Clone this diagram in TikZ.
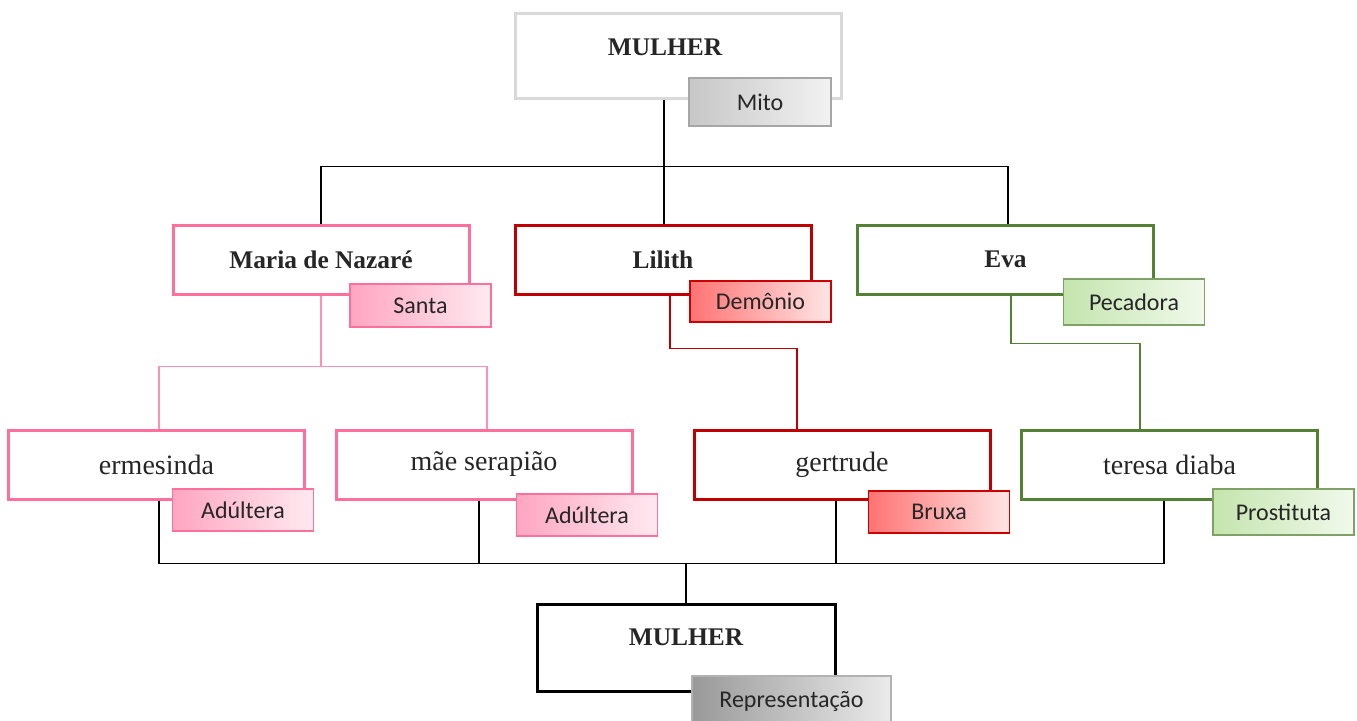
\documentclass[tikz,border=0pt]{standalone}
\usepackage{fontspec}
\setmainfont{Liberation Serif}
\newfontfamily\tagfont{Carlito}
\definecolor{rosa}{HTML}{FF6F9C}
\definecolor{rosaclaro}{HTML}{FF8FB3}
\definecolor{vermelho}{HTML}{C00000}
\definecolor{verde}{HTML}{548235}
\definecolor{verdeA}{HTML}{C4E5AE}
\definecolor{verdeB}{HTML}{F1F9EC}
\definecolor{cinza}{HTML}{D9D9D9}
\begin{document}
\begin{tikzpicture}[x=0.5pt,y=0.5pt,
	caixa/.style={draw,fill=white,line width=1.5pt,minimum width=148pt,minimum height=34.5pt,text=black!85,font=\fontsize{14}{16}\selectfont},
	titulo/.style={caixa,font=\bfseries\fontsize{12.7}{15}\selectfont},
	etiqueta/.style={draw,line width=0.6pt,minimum width=70.5pt,minimum height=21.5pt,text=black!85,font=\tagfont\fontsize{12}{14}\selectfont},
	tagrosa/.style={etiqueta,draw=rosa,left color=rosaclaro!80,right color=rosa!15},
	tagvermelho/.style={etiqueta,draw=red!80!black,left color=red!55,right color=red!10},
	tagverde/.style={etiqueta,draw=verde!75!white,left color=verdeA,right color=verdeB},
	tagcinza/.style={etiqueta,draw=black!35,left color=black!22,right color=black!5},
	ligacao/.style={line width=0.75pt}]
	\useasboundingbox (0,0) rectangle (1357,-720);
	% mito
	\node[titulo,draw=cinza,minimum width=163pt,minimum height=42.5pt] (mulherA) at(678,-55.5){\hspace*{-13pt}\raisebox{8pt}{MULHER}};
	\node[tagcinza,minimum width=71pt,minimum height=24pt] (mito) at(760,-102){Mito};
	% figuras biblicas
	\node[titulo,draw=rosa] (maria) at(321,-259.5){Maria de Nazaré};
	\node[tagrosa] (santa) at(420.5,-305.5){Santa};
	\node[titulo,draw=vermelho] (lilith) at(663,-259.5){Lilith};
	\node[tagvermelho,minimum height=20.5pt] (demonio) at(760.5,-301.5){Demônio};
	\node[titulo,draw=verde] (eva) at(1005.5,-259.5){Eva};
	\node[tagverde,minimum height=23pt] (pecadora) at(1134,-302){Pecadora};
	% personagens
	\node[caixa,draw=rosa] (ermesinda) at(156.5,-464.5){ermesinda};
	\node[tagrosa,minimum height=21pt] (adulteraA) at(243,-510){Adúltera};
	\node[caixa,draw=rosa] (serapiao) at(484,-464.5){mãe serapião};
	\node[tagrosa,minimum height=21pt] (adulteraB) at(587,-515){Adúltera};
	\node[caixa,draw=vermelho] (gertrude) at(842,-464.5){gertrude};
	\node[tagvermelho,minimum height=21pt] (bruxa) at(939,-512){Bruxa};
	\node[caixa,draw=verde] (teresa) at(1169.5,-464.5){teresa diaba};
	\node[tagverde,minimum height=23pt] (prostituta) at(1283.5,-512){Prostituta};
	% representacao
	\node[titulo,draw=black,minimum width=149pt,minimum height=43.5pt] (mulherB) at(686,-647.5){\raisebox{10pt}{MULHER}};
	\node[tagcinza,draw=black!30,left color=black!40,right color=black!8,minimum width=99.5pt,minimum height=25pt] (repres) at(791.5,-701){Representação};
	% ligacoes
	\draw[ligacao] ([xshift=-7pt]mulherA.south) -- ++(0,-67) coordinate (topo);
	\draw[ligacao] (maria.north) |- (topo) -| ([xshift=1.25pt]eva.north);
	\draw[ligacao] (topo) -- (topo |- lilith.north);
	\draw[ligacao,rosaclaro] (maria.south) -- ++(0,-71) coordinate (meio);
	\draw[ligacao,rosaclaro] ([xshift=1.25pt]ermesinda.north) |- (meio) -| ([xshift=1.5pt]serapiao.north);
	\draw[ligacao,vermelho] ([xshift=3.5pt]lilith.south) -- ++(0,-53) -| ([xshift=-22.5pt]gertrude.north);
	\draw[ligacao,verde] ([xshift=2.75pt]eva.south) -- ++(0,-48) -| ([xshift=-14.75pt]teresa.north);
	\draw[ligacao] (mulherB.north) -- ++(0,39) coordinate (base);
	\draw[ligacao] ([xshift=1.25pt]ermesinda.south) |- (base) -| ([xshift=-2.75pt]teresa.south);
	\draw[ligacao] ([xshift=-2.5pt]serapiao.south) -- ([xshift=-2.5pt]serapiao.south |- base);
	\draw[ligacao] ([xshift=-3pt]gertrude.south) -- ([xshift=-3pt]gertrude.south |- base);
\end{tikzpicture}
\end{document}
